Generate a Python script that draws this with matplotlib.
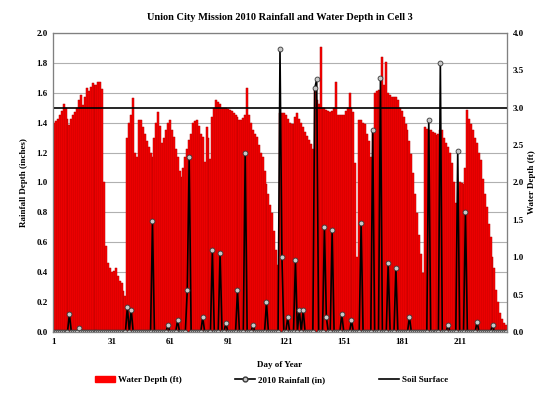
import numpy as np
import matplotlib
matplotlib.use("Agg")
import matplotlib.pyplot as plt
from matplotlib.lines import Line2D

plt.rcParams['font.family'] = ['Liberation Serif', 'DejaVu Serif']
plt.rcParams['font.weight'] = 'bold'

# water depth in the cell (ft), one value per day of year starting at day 1
water_depth = [
    2.80, 2.82, 2.85, 2.90, 2.95, 3.05, 3.00, 2.85, 2.77, 2.85,
    2.90, 2.94, 3.00, 3.10, 3.17, 3.04, 3.15, 3.26, 3.22, 3.28,
    3.33, 3.30, 3.31, 3.34, 3.34, 3.25, 2.00, 1.15, 0.92, 0.85,
    0.80, 0.82, 0.85, 0.75, 0.68, 0.66, 0.55, 0.48, 2.60, 2.80,
    2.90, 3.13, 2.40, 2.34, 2.84, 2.84, 2.74, 2.65, 2.55, 2.48,
    2.40, 2.34, 2.60, 2.80, 2.94, 2.75, 2.53, 2.60, 2.70, 2.80,
    2.84, 2.70, 2.61, 2.45, 2.34, 2.15, 2.07, 2.20, 2.34, 2.45,
    2.57, 2.65, 2.80, 2.82, 2.84, 2.75, 2.65, 2.61, 2.28, 2.74,
    2.60, 2.32, 2.88, 3.00, 3.10, 3.08, 3.05, 3.00, 3.00, 2.99,
    2.98, 2.97, 2.95, 2.93, 2.90, 2.88, 2.84, 2.84, 2.86, 2.90,
    3.26, 2.90, 2.80, 2.70, 2.65, 2.61, 2.50, 2.40, 2.34, 2.15,
    1.98, 1.85, 1.70, 1.59, 1.35, 1.10, 0.90, 2.93, 2.93, 2.93,
    2.90, 2.85, 2.80, 2.78, 2.78, 2.88, 2.93, 2.85, 2.80, 2.74,
    2.68, 2.62, 2.57, 2.52, 2.45, 3.26, 3.10, 3.05, 3.81, 3.00,
    3.00, 2.97, 2.95, 2.94, 2.96, 3.00, 3.34, 2.90, 2.90, 2.90,
    2.90, 2.95, 3.00, 3.20, 3.00, 2.94, 2.26, 1.00, 2.84, 2.84,
    2.80, 2.78, 2.65, 2.55, 2.34, 2.70, 3.20, 3.22, 3.24, 3.24,
    3.68, 3.30, 3.61, 3.20, 3.17, 3.15, 3.14, 3.14, 3.10, 3.00,
    2.95, 2.88, 2.78, 2.70, 2.55, 2.38, 2.13, 1.85, 1.59, 1.30,
    1.05, 0.79, 2.74, 2.72, 2.70, 2.70, 2.68, 2.66, 2.64, 2.65,
    2.70, 2.70, 2.60, 2.53, 2.48, 2.40, 2.26, 2.00, 1.72, 1.50,
    2.00, 1.99, 1.98, 2.20, 2.97, 2.85, 2.78, 2.70, 2.60, 2.53,
    2.40, 2.30, 2.05, 1.85, 1.67, 1.45, 1.27, 1.00, 0.85, 0.56,
    0.40, 0.25, 0.18, 0.12, 0.10,
]
days = np.arange(1, len(water_depth) + 1)

# 2010 daily rainfall (in); days not listed had none
rain_days = [9, 14, 39, 41, 52, 60, 65, 70, 71, 78, 83, 87, 90, 96, 100,
             104, 111, 118, 119, 122, 126, 128, 130, 136, 137, 141, 142,
             145, 150, 155, 160, 166, 170, 174, 178, 185, 195, 201, 205,
             210, 214, 220, 228]
rain_vals = [0.12, 0.03, 0.17, 0.15, 0.74, 0.05, 0.08, 0.28, 1.17, 0.10,
             0.55, 0.53, 0.06, 0.28, 1.20, 0.05, 0.20, 1.89, 0.50, 0.10,
             0.48, 0.15, 0.15, 1.63, 1.69, 0.70, 0.10, 0.68, 0.12, 0.08,
             0.73, 1.35, 1.70, 0.46, 0.43, 0.10, 1.42, 1.80, 0.05, 1.21,
             0.80, 0.07, 0.05]
rainfall = np.zeros(len(days))
for d, v in zip(rain_days, rain_vals):
    rainfall[d - 1] = v

soil_surface = 1.5  # inches on the left scale (3.0 ft)

x_ticks = [1, 31, 61, 91, 121, 151, 181, 211]

fig = plt.figure(figsize=(5.43, 3.96), dpi=100)
ax = fig.add_axes([0.0976, 0.1616, 0.8361, 0.7551])
ax2 = ax.twinx()
ax3 = ax.twinx()

# left axis: grid only
ax.set_xlim(0.5, len(days) + 0.5)
ax.set_ylim(0, 2.0)
ax.set_yticks(np.arange(0, 2.01, 0.2))
ax.set_yticklabels([f"{v:.1f}" for v in np.arange(0, 2.01, 0.2)])
ax.grid(axis='y', color='#b0b0b0', lw=0.8)
ax.set_xticks(x_ticks)
ax.tick_params(labelsize=6.5, length=0, pad=4)
ax.set_ylabel("Rainfall Depth (inches)", fontsize=6.5, fontweight='bold', labelpad=6)
ax.set_xlabel("Day of Year", fontsize=6.5, fontweight='bold', labelpad=11)

# right axis: water depth bars
ax2.bar(days, water_depth, width=1.0, color='#ff0000', edgecolor='#b00000', lw=0.35)
ax2.set_ylim(0, 4.0)
ax2.set_yticks(np.arange(0, 4.01, 0.5))
ax2.set_yticklabels([f"{v:.1f}" for v in np.arange(0, 4.01, 0.5)])
ax2.tick_params(labelsize=6.5, length=0, pad=4)
ax2.set_ylabel("Water Depth (ft)", fontsize=6.5, fontweight='bold', labelpad=3)

# rainfall line and soil surface on top, left scale
ax3.set_ylim(0, 2.0)
ax3.set_yticks([])
ax3.plot(days, rainfall, color='black', lw=1.2, marker='o', ms=3.5,
         mfc='#c8c8c8', mec='#383838', mew=0.6)
ax3.axhline(soil_surface, color='black', lw=1.2)

for a in (ax, ax2, ax3):
    for s in a.spines.values():
        s.set_color('#808080')
        s.set_linewidth(0.8)

ax.set_title("Union City Mission 2010 Rainfall and Water Depth in Cell 3",
             fontsize=7.5, fontweight='bold', pad=9)

handles = [
    plt.Rectangle((0, 0), 1, 1, color='#ff0000'),
    Line2D([], [], color='black', lw=1.2, marker='o', ms=3.5, mfc='#c8c8c8', mec='#383838'),
    Line2D([], [], color='black', lw=1.2),
]
labels = ["Water Depth (ft)", "2010 Rainfall (in)", "Soil Surface"]
fig.legend(handles, labels, loc='lower center', bbox_to_anchor=(0.5, 0.01), ncol=3,
           frameon=False, fontsize=6.5, columnspacing=6, handlelength=2.2, handletextpad=0.3)

fig.savefig("out.png", dpi=100)
